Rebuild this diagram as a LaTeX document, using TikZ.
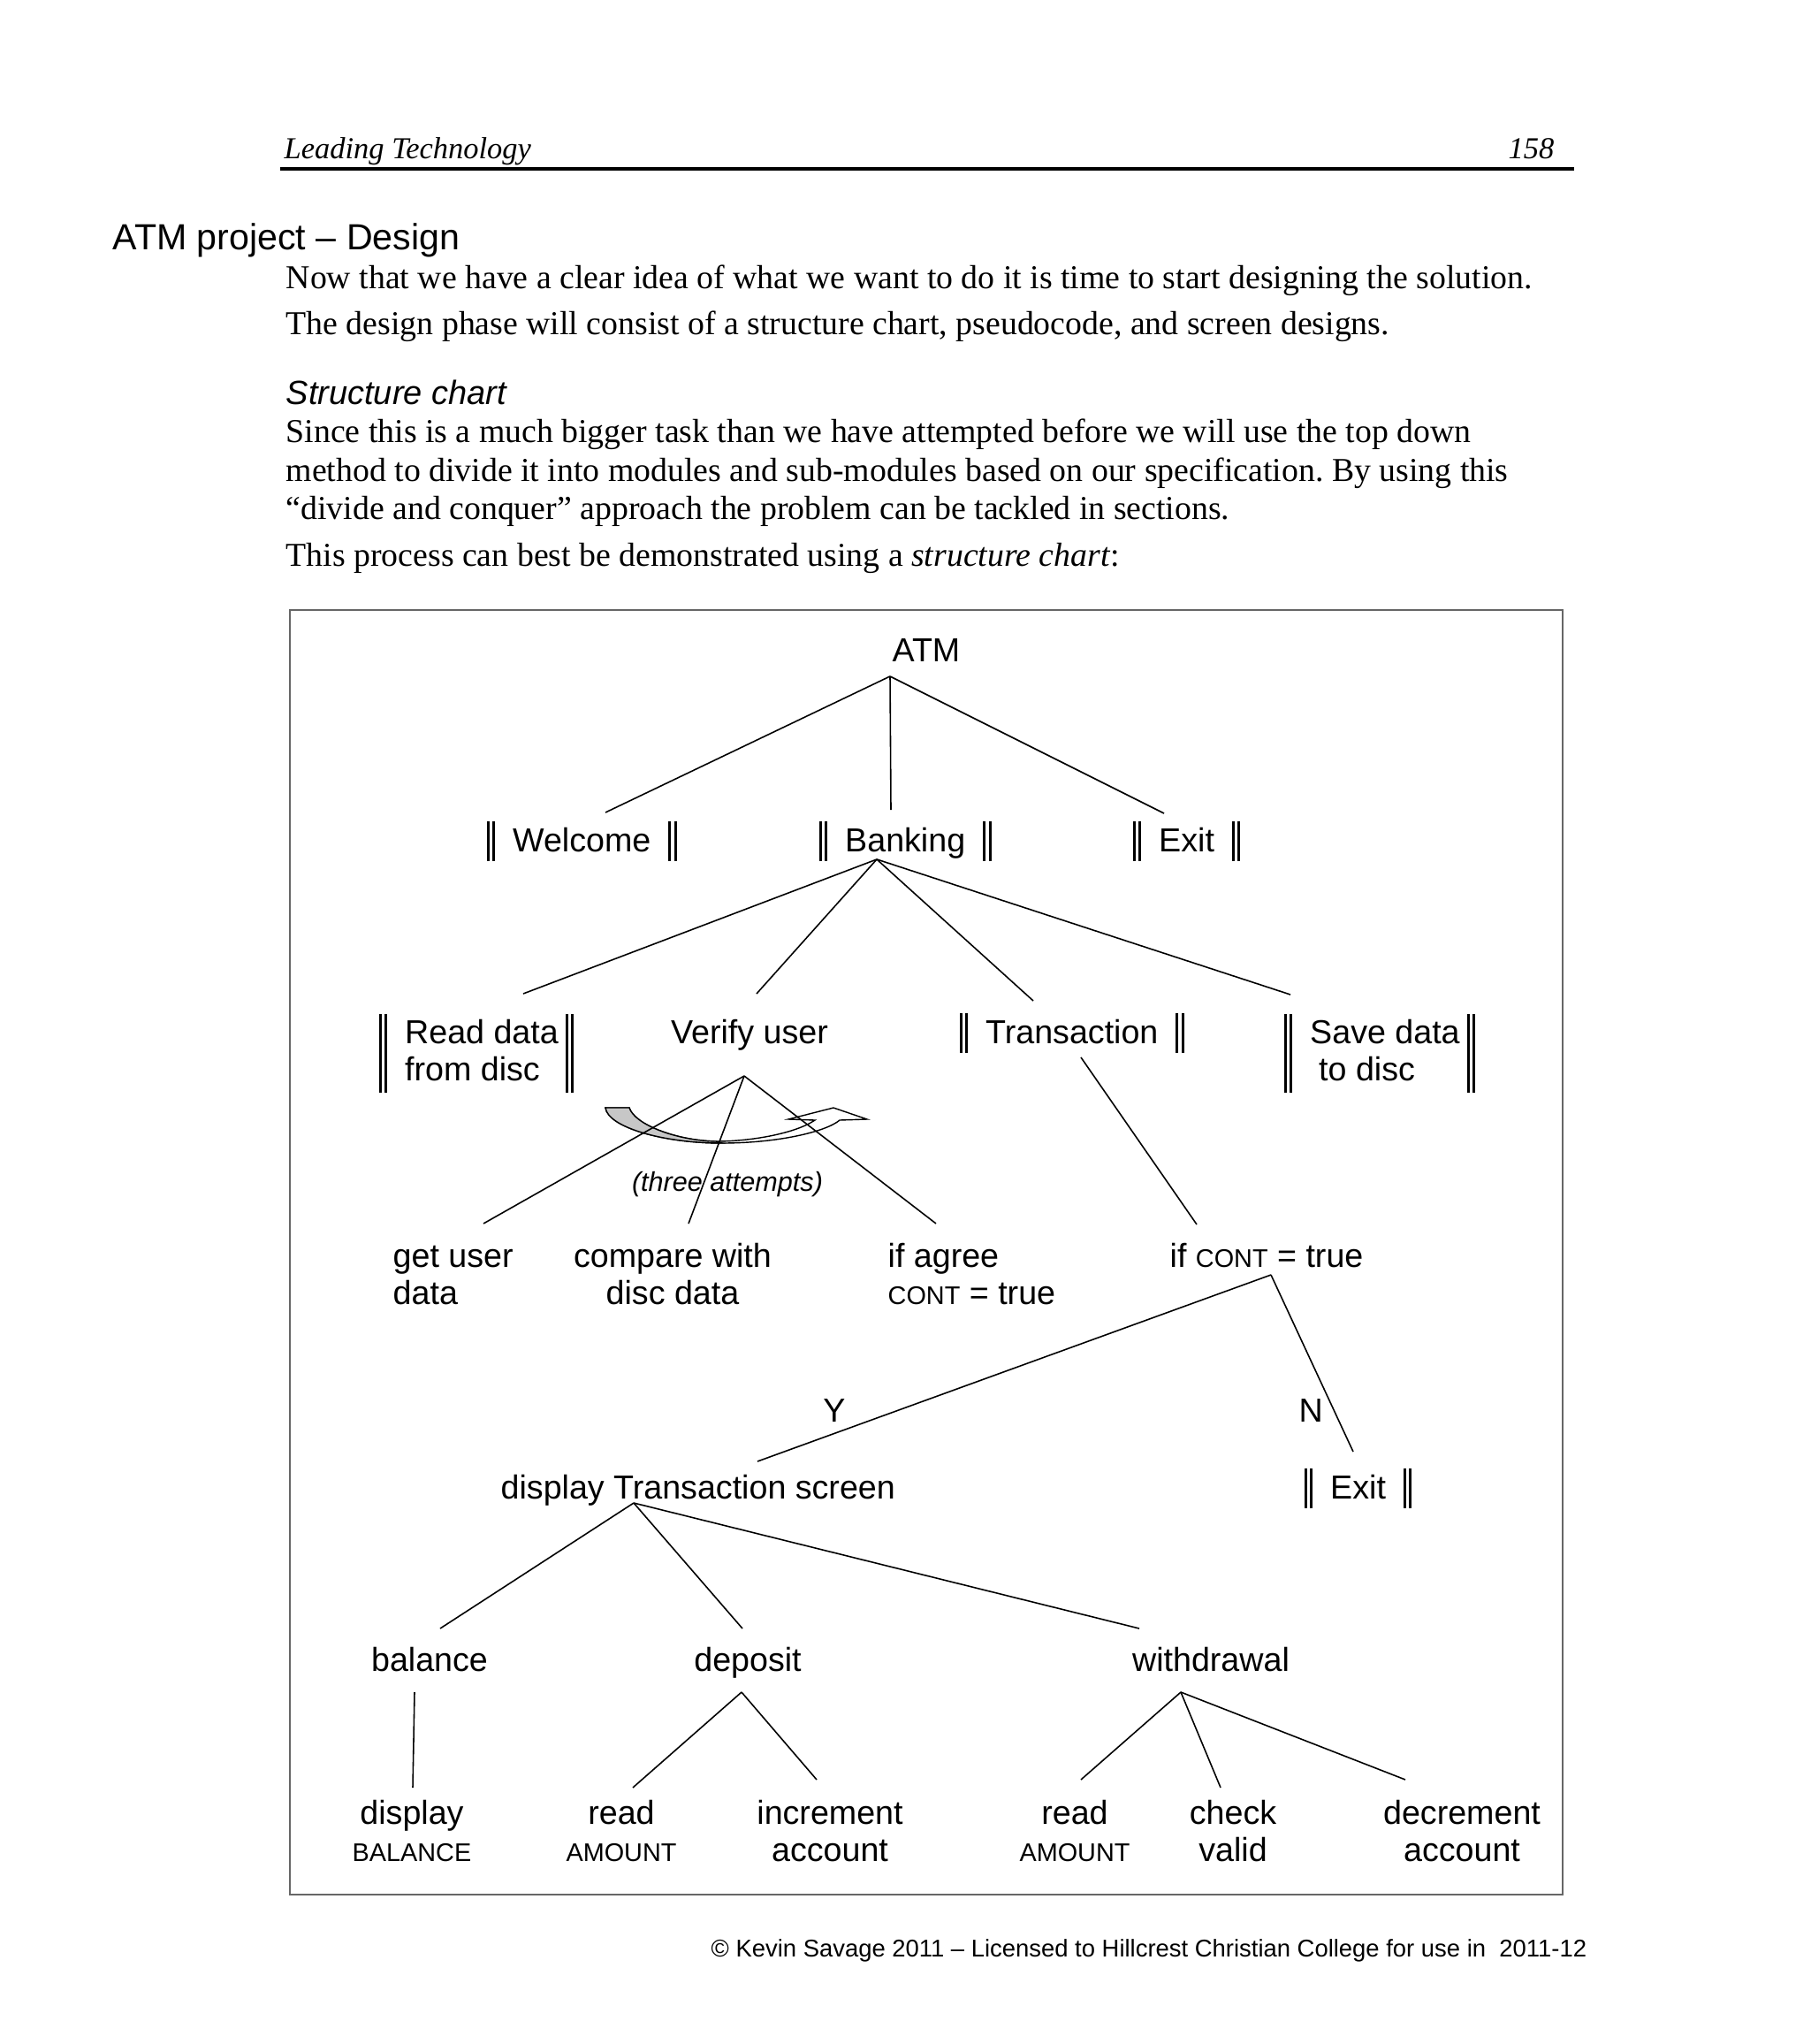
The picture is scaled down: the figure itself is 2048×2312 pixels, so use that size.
\documentclass[tikz,border=0pt]{standalone}
\usepackage{fontspec}
\setmainfont{Liberation Serif}
\setsansfont{Liberation Sans}
\usetikzlibrary{calc}
\frenchspacing

\newcommand{\chartsize}{\fontsize{10.7pt}{12.2pt}\selectfont}
\newcommand{\smcap}[1]{{\fontsize{8.2pt}{12.2pt}\selectfont #1}}
\newcommand{\modbar}{\rule[-0.11cm]{0.03cm}{0.45cm}\hspace{0.035cm}\rule[-0.11cm]{0.03cm}{0.45cm}}
\newcommand{\modbarlong}{\rule[-0.56cm]{0.03cm}{0.89cm}\hspace{0.035cm}\rule[-0.56cm]{0.03cm}{0.89cm}}
\newcommand{\module}[1]{\modbar\hspace{0.2cm}#1\hspace{0.2cm}\modbar}

\tikzset{
  chart/.style={font=\sffamily\chartsize, inner sep=0pt},
  pagetext/.style={font=\rmfamily\fontsize{10.75pt}{13pt}\selectfont, inner sep=0pt, anchor=base west},
  link/.style={line width=0.45pt},
}

\begin{document}
\begin{tikzpicture}[x=0.01cm, y=-0.01cm]
  \useasboundingbox (0,0) rectangle (2048,2312);
  % page header
  \node[anchor=base west, inner sep=0pt, font=\rmfamily\itshape\fontsize{9.8pt}{12pt}\selectfont] (runhead) at (321,180) {Leading Technology};
  \node[anchor=base east, inner sep=0pt, font=\rmfamily\itshape\fontsize{9.8pt}{12pt}\selectfont] (pagenum) at (1759,180) {158};
  \draw[line width=0.9pt] (317,191) -- (1781,191);
  % heading and body text
  \node[anchor=base west, inner sep=0pt, font=\sffamily\fontsize{11.7pt}{14pt}\selectfont] (title) at (127,282) {ATM project – Design};
  \node[pagetext] (intro1) at (323,326) {Now that we have a clear idea of what we want to do it is time to start designing the solution.};
  \node[pagetext] (intro2) at (323,378) {The design phase will consist of a structure chart, pseudocode, and screen designs.};
  \node[anchor=base west, inner sep=0pt, font=\sffamily\itshape\fontsize{10.8pt}{13pt}\selectfont] (subhead) at (323,457) {Structure chart};
  \node[pagetext] (para1) at (323,500) {Since this is a much bigger task than we have attempted before we will use the top down};
  \node[pagetext] (para2) at (323,544) {method to divide it into modules and sub-modules based on our specification. By using this};
  \node[pagetext] (para3) at (323,587) {“divide and conquer” approach the problem can be tackled in sections.};
  \node[pagetext] (para4) at (323,640) {This process can best be demonstrated using a \textit{structure chart}:};
  % chart frame
  \draw[black!60, line width=0.5pt] (328,690) rectangle (1768,2143);
  % repeat arrow
  \filldraw[fill=white, line width=0.4pt] (685,1253) .. controls (688,1275) and (750,1293) .. (817,1293)
    .. controls (880,1293) and (935,1280) .. (950,1267) -- (981,1266) -- (943,1253) -- (892,1266) -- (922,1267)
    .. controls (900,1282) and (850,1291) .. (810,1291)
    .. controls (765,1290) and (718,1272) .. (712,1253) -- cycle;
  \filldraw[fill=black!22, line width=0.4pt] (685,1253) .. controls (688,1275) and (750,1293) .. (817,1293)
    -- (810,1291) .. controls (765,1290) and (718,1272) .. (712,1253) -- cycle;
  % modules
  \node[chart, anchor=base] (atm) at (1048,748) {ATM};
  \node[chart, anchor=base west] (welcome) at (550,963) {\module{Welcome}};
  \node[chart, anchor=base west] (banking) at (926,963) {\module{Banking}};
  \node[chart, anchor=base west] (exita) at (1281,963) {\module{Exit}};
  \node[chart, anchor=base west] (readdisc) at (428,1180) {\modbarlong\hspace{0.2cm}\begin{tabular}[t]{@{}l@{}}Read data\\from disc\end{tabular}\hspace{0.08cm}\modbarlong};
  \node[chart, anchor=base] (verify) at (848,1180) {Verify user};
  \node[chart, anchor=base west] (trans) at (1085,1180) {\module{Transaction}};
  \node[chart, anchor=base west] (savedisc) at (1452,1180) {\modbarlong\hspace{0.2cm}\begin{tabular}[t]{@{}l@{}}Save data\\\hspace{0.1cm}to disc\end{tabular}\hspace{0.08cm}\modbarlong};
  \node[chart, anchor=base west] (getuser) at (444,1433) {\begin{tabular}[t]{@{}l@{}}get user\\data\end{tabular}};
  \node[chart, anchor=base] (compare) at (761,1433) {\begin{tabular}[t]{@{}c@{}}compare with\\disc data\end{tabular}};
  \node[chart, anchor=base west] (agree) at (1004,1433) {\begin{tabular}[t]{@{}l@{}}if agree\\\smcap{CONT} = true\end{tabular}};
  \node[chart, anchor=base west] (ifcont) at (1323,1433) {if \smcap{CONT} = true};
  \node[chart, anchor=base, font=\sffamily\itshape\fontsize{8.7pt}{10pt}\selectfont] (attempts) at (823,1347) {(three attempts)};
  \node[chart, anchor=base] (yes) at (944,1608) {Y};
  \node[chart, anchor=base west] (no) at (1469,1608) {N};
  \node[chart, anchor=base west] (dispscr) at (566,1695) {display Transaction screen};
  \node[chart, anchor=base west] (exitb) at (1475,1695) {\module{Exit}};
  \node[chart, anchor=base] (balance) at (486,1890) {balance};
  \node[chart, anchor=base] (deposit) at (846,1890) {deposit};
  \node[chart, anchor=base] (withdraw) at (1370,1890) {withdrawal};
  \node[chart, anchor=base] (dispbal) at (466,2063) {\begin{tabular}[t]{@{}c@{}}display\\\smcap{BALANCE}\end{tabular}};
  \node[chart, anchor=base] (readamta) at (703,2063) {\begin{tabular}[t]{@{}c@{}}read\\\smcap{AMOUNT}\end{tabular}};
  \node[chart, anchor=base] (incr) at (939,2063) {\begin{tabular}[t]{@{}c@{}}increment\\account\end{tabular}};
  \node[chart, anchor=base] (readamtb) at (1216,2063) {\begin{tabular}[t]{@{}c@{}}read\\\smcap{AMOUNT}\end{tabular}};
  \node[chart, anchor=base] (check) at (1395,2063) {\begin{tabular}[t]{@{}c@{}}check\\valid\end{tabular}};
  \node[chart, anchor=base] (decr) at (1654,2063) {\begin{tabular}[t]{@{}c@{}}decrement\\account\end{tabular}};
  % links
  \draw[link] ($(atm.base)+(-41,17)$) -- ($(welcome.base west)+(135,-44)$);
  \draw[link] ($(atm.base)+(-41,17)$) -- ($(banking.base west)+(82,-47)$);
  \draw[link] ($(atm.base)+(-41,17)$) -- ($(exita.base west)+(36,-43)$);
  \draw[link] ($(banking.base west)+(66,9)$) -- ($(readdisc.base west)+(164,-56)$);
  \draw[link] ($(banking.base west)+(66,9)$) -- ($(verify.base)+(8,-56)$);
  \draw[link] ($(banking.base west)+(66,9)$) -- ($(trans.base west)+(84,-48)$);
  \draw[link] ($(banking.base west)+(66,9)$) -- ($(savedisc.base west)+(8,-55)$);
  \draw[link] ($(verify.base)+(-6,37)$) -- ($(getuser.base west)+(103,-49)$);
  \draw[link] ($(verify.base)+(-6,37)$) -- ($(compare.base)+(18,-49)$);
  \draw[link] ($(verify.base)+(-6,37)$) -- ($(agree.base west)+(55,-49)$);
  \draw[link] ($(trans.base west)+(138,16)$) -- ($(ifcont.base west)+(31,-48)$);
  \draw[link] ($(ifcont.base west)+(115,9)$) -- ($(dispscr.base west)+(291,-42)$);
  \draw[link] ($(ifcont.base west)+(115,9)$) -- ($(exitb.base west)+(56,-53)$);
  \draw[link] ($(dispscr.base west)+(151,5)$) -- ($(balance.base)+(12,-48)$);
  \draw[link] ($(dispscr.base west)+(151,5)$) -- ($(deposit.base)+(-6,-48)$);
  \draw[link] ($(dispscr.base west)+(151,5)$) -- ($(withdraw.base)+(-81,-48)$);
  \draw[link] ($(balance.base)+(-17,24)$) -- ($(dispbal.base)+(1,-41)$);
  \draw[link] ($(deposit.base)+(-7,24)$) -- ($(readamta.base)+(13,-41)$);
  \draw[link] ($(deposit.base)+(-7,24)$) -- ($(incr.base)+(-15,-50)$);
  \draw[link] ($(withdraw.base)+(-34,24)$) -- ($(readamtb.base)+(7,-50)$);
  \draw[link] ($(withdraw.base)+(-34,24)$) -- ($(check.base)+(-14,-41)$);
  \draw[link] ($(withdraw.base)+(-34,24)$) -- ($(decr.base)+(-64,-50)$);
  % footer
  \node[anchor=base west, inner sep=0pt, font=\sffamily\fontsize{7.8pt}{9pt}\selectfont] (footer) at (804,2213) {© Kevin Savage 2011 – Licensed to Hillcrest Christian College for use in\ \ 2011-12};
\end{tikzpicture}
\end{document}
